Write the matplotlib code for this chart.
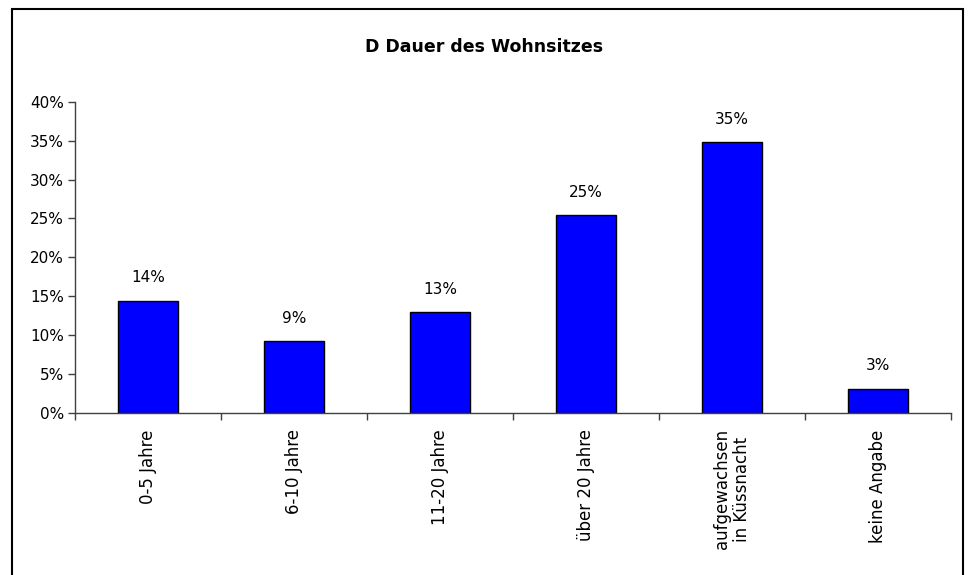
import matplotlib.pyplot as plt
import numpy as np
from matplotlib.patches import Rectangle
from matplotlib.ticker import PercentFormatter

categories = [
    "0-5 Jahre",
    "6-10 Jahre",
    "11-20 Jahre",
    "über 20 Jahre",
    "aufgewachsen\nin Küssnacht",
    "keine Angabe",
]
shares = [0.144, 0.092, 0.129, 0.254, 0.348, 0.031]
y_ticks = [0.0, 0.05, 0.10, 0.15, 0.20, 0.25, 0.30, 0.35, 0.40]

plt.rcParams["font.family"] = ["DejaVu Sans"]
plt.rcParams["font.size"] = 11

fig = plt.figure(figsize=(9.69, 5.75), dpi=100)
ax = fig.add_axes([75 / 969, 1 - 412.7 / 575, 876 / 969, 310.9 / 575])

x = np.arange(len(categories))
bars = ax.bar(x, shares, width=0.41, color="#0000ff", edgecolor="black", linewidth=1)

# value labels above the bars
for bar, v in zip(bars, shares):
    ax.text(
        bar.get_x() + bar.get_width() / 2.0,
        bar.get_height() + 0.02,
        f"{v * 100:.0f}%",
        ha="center",
        va="bottom",
        fontsize=11,
    )

ax.set_xlim(-0.5, len(categories) - 0.5)
ax.set_ylim(0, 0.40)
ax.set_yticks(y_ticks)
ax.yaxis.set_major_formatter(PercentFormatter(1.0, decimals=0))
ax.tick_params(axis="y", length=5, width=1, color="#404040", labelsize=11, pad=3)

# category boundaries as ticks, labels in between
ax.set_xticks(np.arange(len(categories) + 1) - 0.5)
ax.set_xticklabels([])
ax.tick_params(axis="x", which="major", length=5, width=1, color="#404040")
ax.set_xticks(x, minor=True)
ax.set_xticklabels(categories, minor=True, rotation=90, ha="center", va="top",
                   fontsize=12, linespacing=1.15)
ax.tick_params(axis="x", which="minor", length=0, pad=12)

for side in ["top", "right"]:
    ax.spines[side].set_visible(False)
for side in ["left", "bottom"]:
    ax.spines[side].set_color("#404040")
    ax.spines[side].set_linewidth(1)

fig.text(0.5, 1 - 47 / 575, "D Dauer des Wohnsitzes", ha="center", va="center",
         fontsize=12.5, fontweight="bold")

# outer chart frame
fig.patches.append(Rectangle((12 / 969, -0.05), 951 / 969, 1.05 - 9 / 575,
                             transform=fig.transFigure, fill=False,
                             edgecolor="black", linewidth=1.5))

fig.savefig("out.png", dpi=100)
